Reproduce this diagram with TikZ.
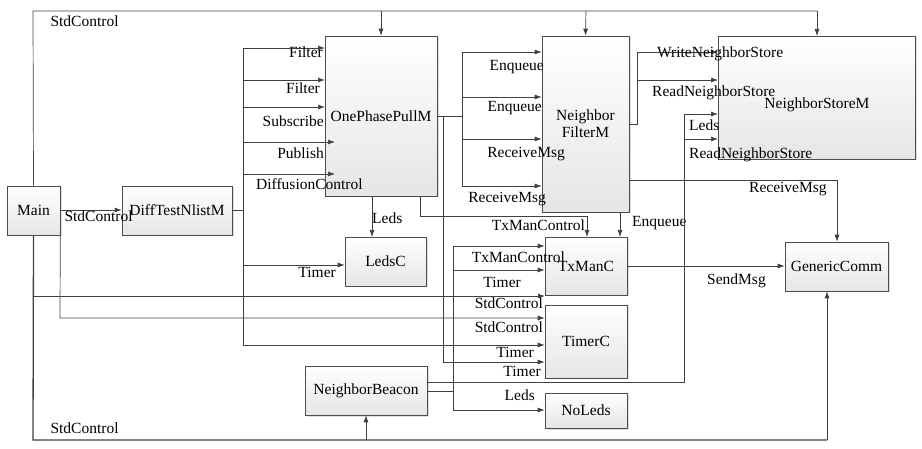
\documentclass[tikz,border=0pt]{standalone}
\usepackage{fontspec}
\setmainfont{Liberation Serif}
\usetikzlibrary{arrows.meta,shadows}
\begin{document}
\begin{tikzpicture}[x=1pt,y=-1pt,
    font=\fontsize{15.5}{17}\selectfont,
    blk/.style={draw=black!70, line width=0.6pt, top color=white, bottom color=black!10,
      drop shadow={shadow xshift=1.5pt, shadow yshift=-1.5pt, fill=black!25},
      inner sep=0pt, align=center},
    wire/.style={draw=black!75, line width=0.7pt},
    arr/.style={wire, -{Latex[length=7pt,width=5pt]}},
    lbl/.style={inner sep=0pt, anchor=base east}]
    \useasboundingbox (0,0) rectangle (922,449);

    % Komponenten
    \node[blk, minimum width=53, minimum height=49] (main) at (33.5,210.5) {Main};
    \node[blk, minimum width=110, minimum height=49] (diff) at (177,210.5) {DiffTestNlistM};
    \node[blk, minimum width=112, minimum height=160] (pull) at (381,116) {OnePhasePullM};
    \node[blk, minimum width=87, minimum height=176] (filt) at (585.5,124) {Neighbor\\FilterM};
    \node[blk, minimum width=197, minimum height=123] (store) at (816.5,97.5) {};
    \node at (817,105) {NeighborStoreM};
    \node[blk, minimum width=81, minimum height=49] (ledsc) at (385.5,261.5) {LedsC};
    \node[blk, minimum width=82, minimum height=58] (txman) at (586,266) {TxManC};
    \node[blk, minimum width=82, minimum height=73] (timer) at (586,341.5) {TimerC};
    \node[blk, minimum width=122, minimum height=49] (beacon) at (366,390.5) {NeighborBeacon};
    \node[blk, minimum width=82, minimum height=35] (noleds) at (586,410.5) {NoLeds};
    \node[blk, minimum width=103, minimum height=49] (comm) at (836.5,266.5) {GenericComm};

    % StdControl oben und unten
    \draw[wire] (main.north) -- (33,11) -- (817,11);
    \draw[arr] (381,11) -- (pull.north);
    \draw[arr] (586,11) -- (filt.north);
    \draw[arr] (817,11) -- (817,36);
    \node[anchor=base west] at (47,27) {StdControl};
    \draw[wire, line width=1.3pt] (main.south) -- (33,440) -- (827,440);
    \draw[arr] (827,440) -- (comm.south -| 827,0);
    \draw[arr] (366,440) -- (beacon.south);
    \node[anchor=base west] at (47,433) {StdControl};

    % Main
    \draw[arr] (main.east |- 0,210) -- (diff.west |- 0,210);
    \node[anchor=base west] at (61,222) {StdControl};
    \draw[arr] (33,296) -- (545,296);
    \node[lbl] at (543,309) {StdControl};
    \draw[arr] (main.south east) -- (60,318) -- (timer.west |- 0,318);
    \node[lbl] at (543,333) {StdControl};

    % DiffTestNlistM
    \draw[wire] (diff.east |- 0,210) -- (243,210);
    \draw[wire] (243,48) -- (243,345);
    \draw[arr] (243,48) -- (325,48);
    \node[lbl] at (323,58) {Filter};
    \draw[arr] (243,80) -- (325,80);
    \node[lbl] at (320,94) {Filter};
    \draw[arr] (243,107) -- (325,107);
    \node[lbl] at (324,127) {Subscribe};
    \draw[arr] (243,142) -- (335,142);
    \node[lbl] at (324,159) {Publish};
    \draw[arr] (243,174) -- (335,174);
    \node[anchor=base west, inner sep=0pt] at (256,190) {DiffusionControl};
    \draw[arr] (243,265) -- (ledsc.west |- 0,265);
    \node[lbl] at (336,278) {Timer};
    \draw[arr] (243,345) -- (timer.west |- 0,345);
    \node[lbl] at (534,358) {Timer};

    % OnePhasePullM
    \draw[arr] (372,196) -- (372,237);
    \node[anchor=base west, inner sep=0pt] at (372,224) {Leds};
    \draw[wire] (pull.east |- 0,116) -- (462,116);
    \draw[wire] (462,52) -- (462,186);
    \foreach \yy in {52,97,139,186}
      \draw[arr] (462,\yy) -- (filt.west |- 0,\yy);
    \node[lbl] at (544,71) {Enqueue};
    \node[lbl] at (542,112) {Enqueue};
    \node[lbl] at (565,158) {ReceiveMsg};
    \node[lbl] at (546,203) {ReceiveMsg};
    \draw[wire] (443,116) -- (443,362);
    \draw[arr] (443,362) -- (timer.west |- 0,362);
    \node[lbl] at (541,377) {Timer};
    \draw[wire] (420,196) -- (420,216) -- (587,216);
    \draw[arr] (587,216) -- (587,237);
    \node[lbl] at (585,231) {TxManControl};

    % NeighborFilterM
    \draw[arr] (620,212) -- (620,237);
    \node[anchor=base west, inner sep=0pt] at (632,227) {Enqueue};
    \draw[wire] (filt.east |- 0,124) -- (637,124) -- (637,52);
    \draw[arr] (637,52) -- (718,52);
    \node[anchor=base west, inner sep=0pt] at (657,58) {WriteNeighborStore};
    \draw[arr] (637,80) -- (718,80);
    \node[anchor=base west, inner sep=0pt] at (652,97) {ReadNeighborStore};
    \draw[wire] (filt.east |- 0,180) -- (837,180);
    \draw[arr] (837,180) -- (comm.north -| 837,0);
    \node[anchor=base west, inner sep=0pt] at (749,193) {ReceiveMsg};

    % NeighborBeacon
    \draw[wire] (beacon.east |- 0,382) -- (684,382) -- (684,114);
    \draw[arr] (684,114) -- (718,114);
    \node[anchor=base west, inner sep=0pt] at (689,131) {Leds};
    \draw[arr] (684,139) -- (718,139);
    \node[anchor=base west, inner sep=0pt] at (689,159) {ReadNeighborStore};
    \draw[wire] (beacon.east |- 0,391) -- (453,391);
    \draw[wire] (453,246) -- (453,410);
    \draw[arr] (453,246) -- (txman.west |- 0,246);
    \node[lbl] at (565,263) {TxManControl};
    \draw[arr] (453,270) -- (txman.west |- 0,270);
    \node[lbl] at (521,288) {Timer};
    \draw[arr] (453,410) -- (noleds.west |- 0,410);
    \node[lbl] at (535,400) {Leds};

    % TxManC
    \draw[arr] (txman.east |- 0,266) -- (comm.west |- 0,266);
    \node[anchor=base west, inner sep=0pt] at (707,285) {SendMsg};
\end{tikzpicture}
\end{document}
